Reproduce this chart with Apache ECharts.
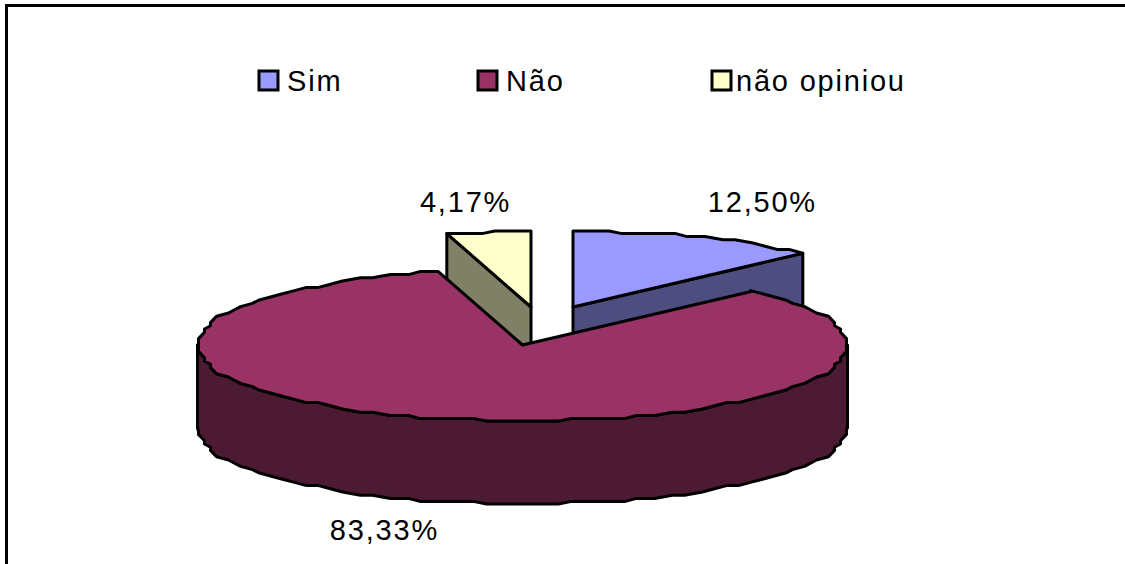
<!DOCTYPE html>
<html>
<head>
<meta charset="utf-8">
<style>
  html, body { margin: 0; padding: 0; background: #fff; }
  #chart { width: 1125px; height: 564px; }
  #chart text { letter-spacing: 1.8px; }
</style>
<script src="https://cdn.jsdelivr.net/npm/echarts@6/dist/echarts.min.js"></script>
</head>
<body>
<div id="chart"></div>
<script>
// Survey answers, in clockwise order from twelve o'clock
const categories = ['Sim', 'Não', 'não opiniou'];
const shares = [12.5, 83.33, 4.17];

const topColors = ['#9999FF', '#993366', '#FFFFCC'];
const sideColors = ['#4D4D80', '#4D1A33', '#808066'];

// Projection of the tilted disc
const disc = { cx: 522.5, cy: 345, rx: 325, ry: 76, depth: 83, gridX: 6, gridY: 3.2, step: 3 };
const explode = [[50.5, -38], [0, 0], [8.5, -38]];
const labelShift = [[65, -35], [-54, 29], [-23, -30]];
const stroke = { stroke: '#000', lineWidth: 3, lineJoin: 'round' };
const textSize = 29;

const total = shares.reduce((a, b) => a + b, 0);
const startAngles = shares.map((_, i) =>
  shares.slice(0, i).reduce((a, b) => a + b, 0) / total * 360);
const endAngles = shares.map((v, i) => startAngles[i] + v / total * 360);

const rad = d => d * Math.PI / 180;
const clamp = (v, limit) => Math.max(-limit, Math.min(limit, v));

// Rim point for a clockwise angle measured from twelve o'clock
function rim(cx, cy, deg) {
  return [cx + disc.rx * Math.sin(rad(deg)), cy - disc.ry * Math.cos(rad(deg))];
}

// Rim polyline snapped to a coarse device grid, which gives the stepped outline
function arc(cx, cy, from, to) {
  const pts = [rim(cx, cy, from)];
  for (let d = Math.ceil(from / disc.step) * disc.step; d < to; d += disc.step) {
    const p = rim(0, 0, d);
    const q = [cx + clamp(Math.round(p[0] / disc.gridX) * disc.gridX, disc.rx),
               cy + clamp(Math.round(p[1] / disc.gridY) * disc.gridY, disc.ry)];
    const last = pts[pts.length - 1];
    if (q[0] !== last[0] || q[1] !== last[1]) pts.push(q);
  }
  pts.push(rim(cx, cy, to));
  return pts;
}

const poly = (points, fill, z2) => ({
  type: 'polygon', z2,
  shape: { points },
  style: Object.assign({ fill }, stroke)
});

function drawSlice(i) {
  const cx = disc.cx + explode[i][0];
  const cy = disc.cy + explode[i][1];
  const a0 = startAngles[i];
  const a1 = endAngles[i];
  const d = disc.depth;
  const children = [];
  const down = p => [p[0], p[1] + d];

  // Cut faces along the radial edges that look at the viewer
  [a0, a1].forEach(a => {
    const facing = (a === a1 && a1 < 90) || (a === a0 && a0 > 270);
    if (facing) {
      const p = rim(cx, cy, a);
      children.push(poly([[cx, cy], p, down(p), [cx, cy + d]], sideColors[i], 1));
    }
  });

  // Outer wall on the front half of the disc
  const w0 = Math.max(a0, 90);
  const w1 = Math.min(a1, 270);
  if (w1 > w0) {
    const upper = arc(cx, cy, w0, w1);
    children.push(poly(upper.concat(upper.map(down).reverse()), sideColors[i], 1));
  }

  // Top face
  children.push(poly([[cx, cy]].concat(arc(cx, cy, a0, a1)), topColors[i], 2));

  // Percentage label beside the slice
  const mid = (a0 + a1) / 2;
  const anchor = rim(cx, cy, mid);
  const below = mid > 90 && mid < 270 ? d : 0;
  children.push({
    type: 'text', z2: 3,
    x: anchor[0] + labelShift[i][0],
    y: anchor[1] + below + labelShift[i][1],
    style: {
      text: shares[i].toFixed(2).replace('.', ',') + '%',
      font: textSize + 'px "Liberation Sans"',
      fill: '#000',
      align: 'center',
      verticalAlign: 'middle'
    }
  });
  return { type: 'group', children };
}

const legendSpots = [
  { left: 257.5, padding: [0, 0, 4, 4] },
  { left: 476.5, padding: [0, 0, 4, 4] },
  { left: 710.5, padding: [0, 0, 4, 0] }
];

const chart = echarts.init(document.getElementById('chart'), null, { renderer: 'svg' });
chart.setOption({
  animation: false,
  backgroundColor: '#fff',
  legend: categories.map((name, i) => ({
    data: [name],
    left: legendSpots[i].left,
    top: 66,
    padding: 0,
    icon: 'rect',
    itemWidth: 19,
    itemHeight: 19,
    selectedMode: false,
    itemStyle: { borderColor: '#000', borderWidth: 3 },
    textStyle: {
      fontFamily: 'Liberation Sans',
      fontSize: textSize,
      color: '#000',
      padding: legendSpots[i].padding
    }
  })),
  graphic: [{
    type: 'polyline',
    silent: true,
    shape: { points: [[6.5, 564], [6.5, 5.5], [1125, 5.5]] },
    style: { stroke: '#000', lineWidth: 3, fill: 'none' }
  }],
  series: categories.map((name, i) => ({
    type: 'custom',
    name,
    coordinateSystem: 'none',
    z: name === 'Não' ? 3 : 2,
    itemStyle: { color: topColors[i] },
    data: [shares[i]],
    renderItem: () => drawSlice(i)
  }))
});
</script>
</body>
</html>
